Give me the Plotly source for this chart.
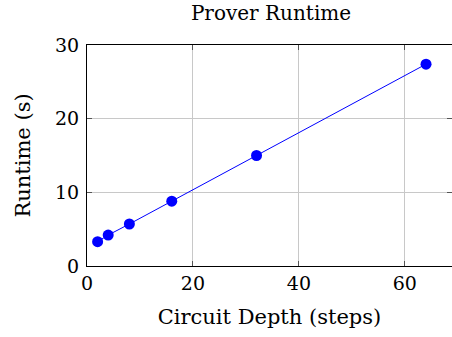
import plotly.graph_objects as go

depth = [2, 4, 8, 16, 32, 64]
runtime = [3.3, 4.2, 5.7, 8.8, 15.0, 27.4]
x_ticks = [0, 20, 40, 60]
y_ticks = [0, 10, 20, 30]

FONT = "DejaVu Serif"

fig = go.Figure()
fig.add_trace(go.Scatter(
    x=depth, y=runtime, mode="lines+markers",
    line=dict(color="#0000ff", width=1),
    marker=dict(color="#0000ff", size=11),
    showlegend=False, cliponaxis=False,
))

axis_common = dict(
    showline=True, linecolor="black", linewidth=1.2,
    mirror="ticks", ticks="inside", ticklen=5, tickcolor="#555555", tickwidth=1,
    showgrid=True, gridcolor="#c8c8c8", gridwidth=1, zeroline=False,
    tickfont=dict(family=FONT, size=19, color="black"),
)

fig.update_layout(
    width=452, height=337,
    margin=dict(l=87, r=0, t=45, b=71),
    paper_bgcolor="white", plot_bgcolor="white",
    font=dict(family=FONT, color="black"),
    title=dict(text="Prover Runtime", x=271/452, xanchor="center",
               y=1 - 13/337, yanchor="middle",
               font=dict(family=FONT, size=20, color="black")),
    xaxis=dict(range=[0, 68.9], tickvals=x_ticks,
               title=dict(text="Circuit Depth (steps)", font=dict(family=FONT, size=21), standoff=16),
               **axis_common),
    yaxis=dict(range=[0, 30], tickvals=y_ticks, ticklabelstandoff=3,
               title=dict(text="Runtime (s)", font=dict(family=FONT, size=21), standoff=18),
               **axis_common),
)

fig.write_html("out.html")
